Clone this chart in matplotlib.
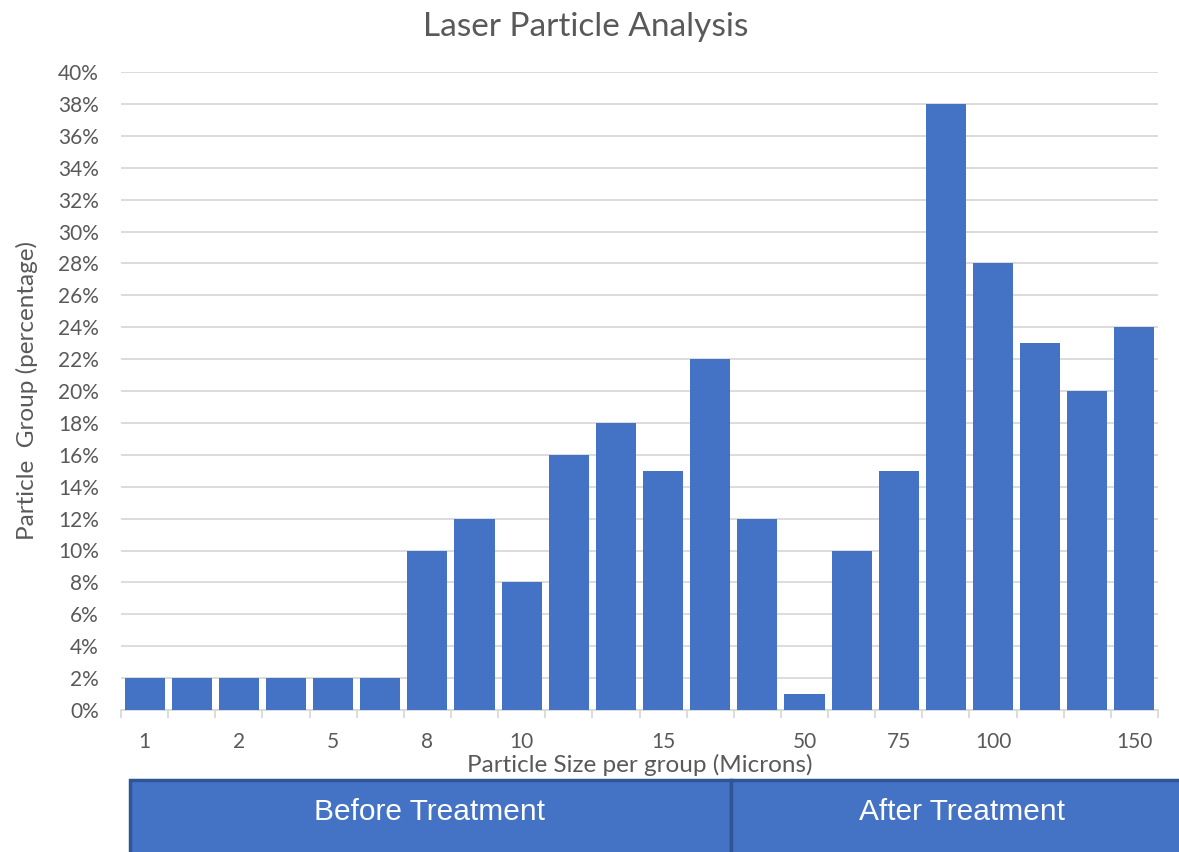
import matplotlib.pyplot as plt
import numpy as np
from matplotlib.patches import Rectangle

plt.rcParams['font.family'] = ['Lato', 'DejaVu Sans']

# data
sizes = ['1', '', '2', '', '5', '', '8', '', '10', '', '', '15', '', '', '50', '',
         '75', '', '100', '', '', '150']
values = [2, 2, 2, 2, 2, 2, 10, 12, 8, 16, 18, 15, 22, 12, 1, 10, 15, 38, 28, 23, 20, 24]
groups = ['Before Treatment', 'After Treatment']

bar_color = '#4472C4'
text_gray = '#595959'
grid_gray = '#D9D9D9'

fig = plt.figure(figsize=(11.79, 8.52), dpi=100)
ax = fig.add_axes([121 / 1179, 1 - 710 / 852, (1158 - 121) / 1179, (710 - 72) / 852])

x = np.arange(len(values))
ax.bar(x, np.array(values) / 100, width=0.85, color=bar_color, zorder=3)

ax.set_xlim(-0.5, len(values) - 0.5)
ax.set_ylim(0, 0.40)
ax.set_yticks(np.arange(0, 0.41, 0.02))
ax.set_yticklabels([f'{int(round(v * 100))}%' for v in np.arange(0, 0.41, 0.02)])
ax.yaxis.grid(True, color=grid_gray, lw=1.3, zorder=0)
ax.tick_params(axis='y', length=0, labelsize=15, labelcolor=text_gray, pad=16)

# category labels at centers, tick marks at boundaries
ax.set_xticks(x)
ax.set_xticklabels(sizes)
ax.set_xticks(np.arange(-0.5, len(values), 1), minor=True)
ax.tick_params(axis='x', which='major', length=0, labelsize=15, labelcolor=text_gray, pad=16)
ax.tick_params(axis='x', which='minor', length=6, color=grid_gray, width=1.3)

for s in ['top', 'right', 'left']:
    ax.spines[s].set_visible(False)
ax.spines['bottom'].set_color(grid_gray)
ax.spines['bottom'].set_linewidth(1.3)

ax.set_title('Laser Particle Analysis', fontsize=24, color=text_gray, pad=26,
             x=(586 - 121) / (1158 - 121))
ax.set_ylabel('Particle  Group (percentage)', fontsize=17.5, color=text_gray, labelpad=14)
ax.set_xlabel('Particle Size per group (Microns)', fontsize=17.5, color=text_gray, labelpad=1)

# treatment boxes below the chart
W, H = 1179, 852
box_top = 780
edges = [(130, 731), (731, 1185)]
text_x = [430, 962]
for (x0, x1), tx, label in zip(edges, text_x, groups):
    fig.patches.append(Rectangle((x0 / W, 0 - 0.01), (x1 - x0) / W, (H - box_top) / H + 0.01,
                                 transform=fig.transFigure, facecolor=bar_color,
                                 edgecolor='#2F5597', lw=2.5))
    fig.text(tx / W, 1 - 812 / H, label,
             ha='center', va='center', color='white', fontsize=21.5,
             family=['Liberation Sans', 'DejaVu Sans'])

plt.savefig('out.png', dpi=100)
